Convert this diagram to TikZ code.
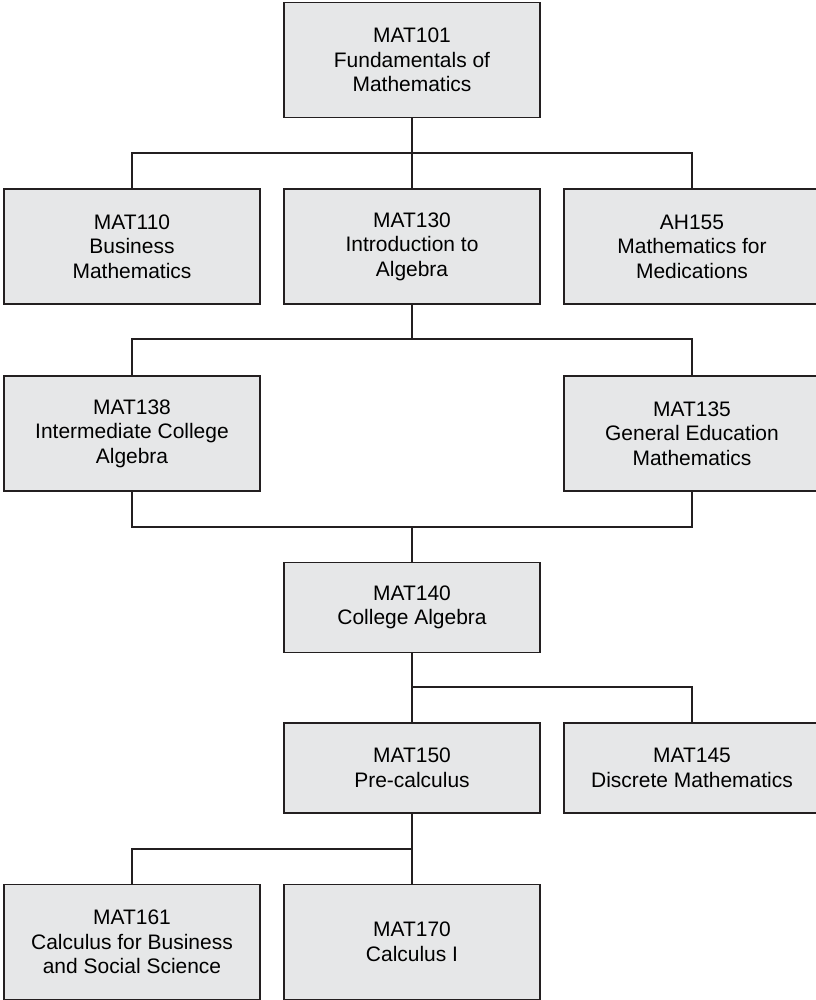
\documentclass[tikz,border=0pt]{standalone}
\usepackage{fontspec}
\setmainfont{Liberation Sans}
\usepackage{xcolor}
\usetikzlibrary{positioning,calc}
\definecolor{boxgray}{HTML}{E6E7E8}
\definecolor{linegray}{HTML}{231F20}
\tikzset{
	course/.style = {
			draw            = linegray,
			fill            = boxgray,
			line width      = 1.2pt,
			minimum width   = 7.68cm,
			minimum height  = 2.7cm,
			inner sep       = 0pt,
			align           = center,
			font            = \fontsize{17.9pt}{20.9pt}\selectfont,
		},
	tall/.style = {minimum height = 3.45cm},
	link/.style = {draw=linegray, line width=1.1pt},
}

\begin{document}
\begin{tikzpicture}[x=0.03cm,y=-0.03cm]
	% Fix the bounding box to the page
	\useasboundingbox (0,0) rectangle (816,1000);

	% Courses
	\node[course,tall] (mat101) at (412,60) {MAT101\\Fundamentals of\\Mathematics};

	\node[course,tall] (mat110) at (132,246.5) {MAT110\\Business\\Mathematics};
	\node[course,tall] (mat130) at (412,246.5) {MAT130\\Introduction to\\Algebra};
	\node[course,tall] (ah155)  at (692,246.5) {AH155\\Mathematics for\\Medications};

	\node[course,tall] (mat138) at (132,433.5) {MAT138\\Intermediate College\\Algebra};
	\node[course,tall] (mat135) at (692,433.5) {MAT135\\General Education\\Mathematics};

	\node[course] (mat140) at (412,607.5) {MAT140\\College Algebra};

	\node[course] (mat150) at (412,768) {MAT150\\Pre-calculus};
	\node[course] (mat145) at (692,768) {MAT145\\Discrete Mathematics};

	\node[course,tall] (mat161) at (132,942) {MAT161\\Calculus for Business\\and Social Science};
	\node[course,tall] (mat170) at (412,942) {MAT170\\Calculus I};

	% Junctions of the connectors
	\coordinate (busa) at (412,153);
	\coordinate (busb) at (412,339);
	\coordinate (busc) at (412,527);
	\coordinate (busd) at (412,687);
	\coordinate (buse) at (412,849);

	% Connectors
	\draw[link] (mat101.south) -- (busa);
	\draw[link] (mat110.north) |- (busa) -| (ah155.north);
	\draw[link] (busa) -- (mat130.north);

	\draw[link] (mat130.south) -- (busb);
	\draw[link] (mat138.north) |- (busb) -| (mat135.north);

	\draw[link] (mat138.south) |- (busc) -| (mat135.south);
	\draw[link] (busc) -- (mat140.north);

	\draw[link] (mat140.south) -- (busd) -- (mat150.north);
	\draw[link] (busd) -| (mat145.north);

	\draw[link] (mat150.south) -- (buse) -- (mat170.north);
	\draw[link] (buse) -| (mat161.north);
\end{tikzpicture}
\end{document}
